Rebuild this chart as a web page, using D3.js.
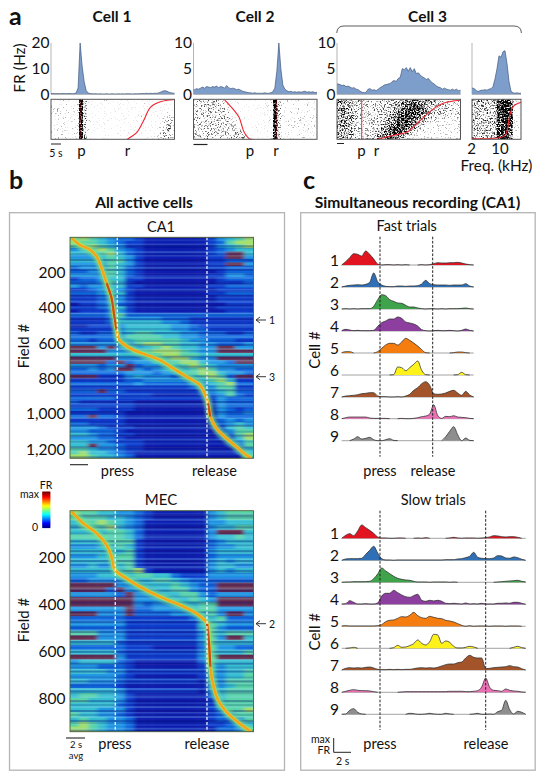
<!DOCTYPE html>
<html><head><meta charset="utf-8">
<script src="https://cdnjs.cloudflare.com/ajax/libs/d3/7.8.5/d3.min.js"></script>
<style>html,body{margin:0;padding:0;background:#fff}svg{display:block}text{font-family:Lato,"Open Sans",sans-serif;fill:#111}</style>
</head><body><div id="chart"></div>
<script>
// ---------- panel a: histograms (Hz per ~1 s bin)
const histCell1 = [.3,.3,.2,.3,.2,.3,.3,.2,.3,.3,.2,.3,.5,2.5,20,11,5,1.5,.5,.3,.2,.2,.2,.1,.2,.1,.1,.2,.1,.1,.2,.1,.1,.2,.1,.2,.1,.2,.2,.2,.1,.2,.2,.2,.3,.3,.3,.4,.3,.4,.3,.4,.4,.5,.8,1.2,1.4,1.3,.9,.6,.5,.4];
const histCell2 = [.9,1.1,1,1.2,1.4,1.2,1.5,1.4,1.3,1.5,1.4,1.6,1.3,1.5,1.4,1.2,1.7,1.3,1.1,1.2,1.1,.9,1,.8,.6,.5,.4,.3,.3,.2,.3,.2,.2,.2,.2,.3,.2,.2,.3,.5,1.2,4.5,10,5,1.8,1,.7,.5,.6,.4,.5,.4,.5,.4,.5,.6,.4,.5,.4,.5,.3,.4];
const histCell3 = [2,1.9,1.7,1.8,1.5,1.6,1.4,1.2,1.3,1,.9,.6,.4,.3,.4,1,1.1,.8,.9,.7,1,1.3,1.5,1.8,1.9,2,2.1,2.5,2.7,2.5,3.1,3.3,5,4.8,5.2,4.5,5.2,4.4,5,4,4.2,3.7,3.4,3.2,2.9,3.1,2.6,2.2,2,1.6,1.4,1.3,1,1.2,1,.9,.8,1,.8,1,.7,.8];
const histCell3Freq = [1.2,1,.6,.6,.8,.8,.9,.8,1,1.1,1.5,3,5,7.5,7.2,8.3,8.5,6,2.5,.6,.3,.2,.3,.2,.2];
const histTicks20 = [0,10,20];
const histTicks10 = [0,5,10];

// ---------- panel a: raster density, one string per trial block (top to bottom)
const rasterCell1 = ["0101010931000100000000000000001","1011001930000000000000010000000","1201011941000000000000000000000","1110101930000000000000000000011","0111011940000000000000100000121","0101011931000000000000000000232","1011001930000000000000000001141","0101011931000000000000000001251","1010011930000000000000000002321","0101001940000000000000000011332"];
const rasterCell2 = ["2323332200010000000193010010100","3233333210000000001093100100101","2323323310000001000193010010011","3232433321000000000093001010110","2323322332000010001093100111011","3232323232100000000193010111010","2323323233310000000093011111001","2232332323320001000093001100100","3223232232332000000193010010010","2323223223323100000193001001001"];
const rasterCell3 = ["5554332322333344566765544332222","4545322323233345677876544333222","5654332223333345678886544333322","4544322232333456788876543332222","5555432322334567888765433222112","4544322233334568887654322211111","5654322233345678776543211111111","4544332223356788765432111111111","5455322323456787653211111111111","4544322333567765421111111111111"];
const rasterFreq = ["344434789630","434344899710","343433899810","443434899710","343343789920","434434899810","343344789921","443433899711","344434889600","434343899500"];

// red curves: [time s, trial]
const curveCell1 = [[38,0],[40.3,3],[43,7.5],[46.2,19],[49.5,32],[54.5,37.5],[61,39.5]];
const curveCell2 = [[15.5,39.5],[20.2,29],[22.7,22],[25.2,7.3],[27.7,.7],[29.3,0]];
const curveCell3 = [[20,0],[28.2,4],[34.9,7.3],[41.5,19],[48.2,30.7],[53.2,36.3],[61.5,39]];
const curveFreq = [[0,.7],[10.7,1],[16.5,4],[19,25],[20.7,33],[24.5,37]];
const pressCell1 = 14.5, pressCell2 = 41.5, pressCell3 = 12.3;

// ---------- panel b: heat maps, value digits 0-9 per field block and 1 s column
const heatCA1 = ["56543221000000013456","65543211000000012566","55654311000000013456","34565321000000012344","44456421000000012994","33345431000000011993","44445531000000011222","33335431000000011993","23335421000000011222","22335421000000001222","33335421000000011332","12234411000000001222","22235410000000001112","32334411000000011222","11234310000000001111","22234410000000011222","11123310000000001111","11123310000000001111","01123210000000000111","11123410000000001111","01112310000000000111","22223522222222222222","11112433332221111111","11112444443321111111","00111344444332111111","11111344444332211111","21122345544433222112","22222355554433222222","22122345555543322211","33333335665544332223","99939333456544339933","99993334566654339999","44444444456655444444","99999333445664339999","99992923344566433299","33323392334456543333","22323993234445653322","22222233323345664332","99911134333234565299","11111122333333456411","22222223222223345622","11111111111112335511","22292211111111234522","11111111100000123521","22222111111111113222","21111110000000013222","11111110000000003222","22211110000000003212","11111100000000003223","22922100000000003222","11111100000000002323","22111100000000002343","33321110000000001454","33222100000000001355","44322110000000001256","33322100000000001146","44332111000000000135","44933211000000000125","55433211000000000014","56443210000000000014","66544320000000000005"];
const heatMEC = ["65544332100000034555","55554432100000034555","45565432000000033444","45556432000000034455","44445542000000039994","55555542000000034454","44445551000000023444","33344541000000023344","44444451000000034444","33344551000000023333","44444551000000034344","33433451000000034433","44444456100000034344","33344445544211133333","22333344455432222222","99999333444543229999","99992933344553229999","33333293334455323333","99999993333445439999","99999993233344559999","33333392233334553333","99933392222333453993","22222211111112345222","33333311111111454333","22222211111111453222","55533311111111354555","99933311111111353994","44444211111111354444","22222211100000253322","44444211111111354445","99999311111111359999","34444210000000254444","33322210000000143444","44443311111111143445","33333210000000133445","44333211111111043555","22222100000000033455","44444311111111034555","45544310000000024555","55444310000000014555","44444210000000014555","44433310000000013556","54433210000000012355","45443320000000012235","56543320000000011234","66543320000000002235"];
// fine row-to-row striping: 0 dark ... 2 none ... 4 light
const stripesCA1 = "1323012413202314021342103241203142031241302143120342130241320143201342031241302413204312013421304213024132014320";
const stripesMEC = "2301423104213420314203124031420132403124023142013420312403214031240132403124302140321403124013420314203142013240";
const stripeOpacity = [.34,.16,0,.12,.24];
const stripeFill = ["#06106e","#06106e","#ffffff","#9fe0ff","#9fe0ff"];
// ridge of peak firing: [time s, field #]
const ridgeCA1 = [[.18,5],[1.09,43],[2.17,71],[2.9,109],[3.44,175],[3.99,260],[4.53,345],[4.78,430],[5.07,525],[5.36,581],[5.98,610],[6.88,638],[8.33,666],[9.78,695],[11.23,742],[12.68,789],[14.13,836],[14.67,884],[15.04,940],[15.3,1016],[15.94,1082],[17.03,1138],[18.12,1186],[19.2,1233],[19.75,1252]];
const ridgeMEC = [[.18,4],[1.45,54],[2.9,96],[3.99,146],[4.53,196],[4.9,252],[6.16,288],[7.6,323],[9.78,366],[11.96,401],[13.77,437],[14.93,479],[15.15,564],[15.3,664],[15.58,735],[16.13,805],[17.03,855],[18.48,905],[19.75,940]];
const hotCA1 = [[3.99,260],[4.53,345],[4.78,430],[5.07,525]];
const hotCA1b = [[15.04,940],[15.3,1016]];
const hotMEC = [[14.93,479],[15.15,564],[15.3,664]];
const heatDigits = [0,1,2,3,4,5,6,7,8,9];
const heatColours = ["#0a1cb0","#0c3bcc","#1166dc","#1f94e2","#35bed0","#58d4a6","#a4e068","#ecd828","#ef8a14","#6a3050"];
const ticksCA1 = [200,400,600,800,1000,1200];
const ticksMEC = [200,400,600,800];

// ---------- panel c: normalised rate traces (one array per cell, fast and slow trials)
const fast1 = [0,10,22,34,32,27,42,32,18,3,0,1,1,0,1,0,1,0,0,0,1,0,1,4,7,6,6,7,7,8,6,3,1,0];
const fast2 = [0,3,5,6,7,6,8,14,42,16,6,2,1,1,3,3,2,3,3,4,9,20,10,7,6,6,6,5,6,6,6,10,3,0];
const fast3 = [0,1,0,1,0,1,1,1,8,28,43,40,28,23,18,17,11,6,6,3,1,0,1,1,0,1,0,1,1,1,2,3,1,0];
const fast4 = [1,5,3,1,2,1,1,1,2,14,25,30,36,36,42,38,27,24,21,15,4,1,0,1,2,1,1,2,1,0,2,6,2,0];
const fast5 = [1,4,4,0,0,0,0,0,0,4,14,24,29,29,24,33,44,38,30,21,10,1,0,0,0,0,0,0,1,3,3,1,0,0];
const fast6 = [0,0,0,0,0,0,0,0,0,0,0,0,0,1,24,22,13,22,32,42,14,1,0,0,0,0,0,0,0,1,8,1,0,0];
const fast7 = [0,3,4,5,7,10,11,13,13,3,1,1,0,0,1,0,3,8,20,28,40,46,35,10,8,9,12,17,20,12,5,17,6,0];
const fast8 = [0,3,5,5,5,5,5,2,1,1,1,1,0,0,0,1,0,0,1,3,6,8,14,42,10,1,7,6,9,5,4,3,1,0];
const fast9 = [0,0,0,5,12,5,7,10,3,0,0,3,6,1,0,0,0,0,0,0,0,0,0,0,0,0,12,28,42,18,0,8,1,0];
const slow1 = [0,9,14,8,22,40,32,24,15,4,1,1,0,0,1,1,0,0,0,1,0,2,0,0,0,0,0,1,3,1,0,1,1,1,0,1,2,4,8,7,5,4,5,5,3,0,0];
const slow2 = [0,4,5,5,5,6,18,30,42,22,5,1,1,0,1,1,1,1,1,1,1,1,1,1,1,1,2,2,2,4,5,8,12,24,9,6,5,5,7,14,13,7,6,10,8,3,0];
const slow3 = [0,1,1,2,2,2,2,3,11,25,43,34,26,18,12,9,7,6,3,1,1,1,0,1,1,1,1,0,1,0,0,0,0,0,0,0,0,0,0,1,2,3,4,5,6,3,1];
const slow4 = [1,2,11,6,1,1,2,1,1,4,25,33,33,42,35,28,23,21,26,30,12,9,12,10,12,9,3,2,3,2,1,4,1,2,1,3,1,1,1,3,3,4,3,6,6,3,0];
const slow5 = [1,2,1,1,1,1,1,1,1,2,5,14,18,19,24,29,28,33,42,32,26,24,30,27,24,23,18,16,13,8,3,0,2,0,1,1,1,0,1,1,1,0,1,1,1,0,0];
const slow6 = [0,0,1,3,0,0,0,0,0,0,0,0,0,2,9,3,4,8,14,25,15,10,20,42,40,15,22,18,6,1,1,3,6,4,0,0,0,0,0,0,0,0,0,3,6,2,0];
const slow7 = [0,5,7,6,7,6,8,9,6,2,1,1,2,1,2,1,2,2,4,6,7,6,7,6,8,12,16,18,18,22,24,36,44,38,36,36,4,5,7,8,9,10,13,10,9,4,0];
const slow8 = [0,3,6,8,6,5,5,4,2,0,0,0,0,0,0,1,2,2,2,2,2,2,2,2,2,2,2,3,3,3,3,2,2,3,5,16,43,15,6,5,3,10,6,4,3,1,0];
const slow9 = [0,1,12,17,6,1,0,0,0,0,0,0,0,0,0,0,0,3,2,0,0,1,3,1,0,0,3,1,0,0,0,0,0,1,3,0,0,1,0,8,12,42,14,1,9,6,0];
const cellColours = ["#e2141f","#2f6fb5","#3ea34a","#8d3f9f","#f57d0f","#fff21a","#a4542a","#ea70b4","#8e8e8e"];
const cellLabels = ["1","2","3","4","5","6","7","8","9"];

// ---------------------------------------------------------------------------
const W=545,H=780;
const svg=d3.select("#chart").append("svg").attr("width",W).attr("height",H);
const defs=svg.append("defs");
const spk=defs.append("filter").attr("id","speckle").attr("x",0).attr("y",0).attr("width",1).attr("height",1).attr("color-interpolation-filters","sRGB");
spk.append("feTurbulence").attr("type","fractalNoise").attr("baseFrequency",.7).attr("numOctaves",2).attr("seed",7).attr("result","n");
spk.append("feColorMatrix").attr("in","n").attr("type","matrix").attr("values","0 0 0 0 0 0 0 0 0 0 0 0 0 0 0 2.6 0 0 0 -.8").attr("result","na");
spk.append("feComposite").attr("in","SourceAlpha").attr("in2","na").attr("operator","arithmetic").attr("k1",0).attr("k2",1.9).attr("k3",1.5).attr("k4",-1.5).attr("result","s");
spk.append("feGaussianBlur").attr("in","s").attr("stdDeviation",.45);
const hb=defs.append("filter").attr("id","heatBlur").attr("filterUnits","userSpaceOnUse").attr("x",0).attr("y",200).attr("width",300).attr("height",580);
hb.append("feGaussianBlur").attr("stdDeviation","2.2 0.55");
defs.append("filter").attr("id","halo").attr("filterUnits","userSpaceOnUse").attr("x",0).attr("y",200).attr("width",300).attr("height",580).append("feGaussianBlur").attr("stdDeviation",1.8);
defs.append("filter").attr("id","soft").attr("filterUnits","userSpaceOnUse").attr("x",0).attr("y",200).attr("width",300).attr("height",580).append("feGaussianBlur").attr("stdDeviation",.7);

function label(x,y,s,size,o={}){
  const t=svg.append("text").attr("x",x).attr("y",y).attr("dy",".35em").attr("text-anchor",o.anchor||"middle").attr("font-size",size).text(s);
  if(o.bold)t.attr("font-weight",700);
  if(o.rot)t.attr("transform",`rotate(-90 ${x} ${y})`);
  return t;
}
function hline(x1,x2,y,c="#222",w=1){svg.append("line").attr("x1",x1).attr("x2",x2).attr("y1",y).attr("y2",y).attr("stroke",c).attr("stroke-width",w);}

// ---------- panel a
const baseY=94.3, topY=43;
function histPanel(values,x0,x1,max,ticks,curve,raster,press,bins,pressOpacity){
  const x=d3.scaleLinear().domain([0,bins]).range([x0,x1]);
  const y=d3.scaleLinear().domain([0,max]).range([baseY,topY]);
  const g=svg.append("g");
  g.append("line").attr("x1",x0).attr("x2",x0).attr("y1",topY).attr("y2",baseY).attr("stroke","#b5b5b5").attr("stroke-width",1);
  const pts=[values[0],...values,values[values.length-1]];
  const ar=d3.area().x((d,i)=>x(Math.min(bins,Math.max(0,i-.5)))).y0(baseY).y1(d=>y(d));
  g.append("path").datum(pts).attr("d",ar).attr("fill","#7d9ecb");
  g.append("path").datum(pts).attr("d",d3.line().x((d,i)=>x(Math.min(bins,Math.max(0,i-.5)))).y(d=>y(d))).attr("fill","none").attr("stroke","#41577c").attr("stroke-width",.7);
  g.append("line").attr("x1",x0).attr("x2",x1).attr("y1",baseY).attr("y2",baseY).attr("stroke","#9a9a9a").attr("stroke-width",.8);
  if(ticks){
    const ax=g.append("g").attr("transform",`translate(${x0-1.5},0)`).call(d3.axisLeft(y).tickValues(ticks).tickSize(0).tickPadding(0));
    ax.select(".domain").remove();
    ax.selectAll("text").attr("font-size",15.5).attr("font-family","Lato");
  }
  // raster
  const rt=99.3,rb=139.3;
  const rows=d3.range(raster.length);
  const cols=d3.range(raster[0].length);
  const bx=d3.scaleBand().domain(cols).range([x0,x1]);
  const by=d3.scaleBand().domain(rows).range([rt,rb]);
  const alpha=d3.scaleLinear().domain([0,9]).range([.05,1]);
  const rg=svg.append("g").attr("filter","url(#speckle)");
  const cells=[];
  rows.forEach(r=>cols.forEach(c=>cells.push({r,c,v:+raster[r][c]})));
  rg.selectAll("rect").data(cells).join("rect").attr("x",d=>bx(d.c)-.01).attr("y",d=>by(d.r)-.01).attr("width",bx.bandwidth()+.02).attr("height",by.bandwidth()+.02).attr("fill","#000").attr("opacity",d=>alpha(d.v));
  const yr=d3.scaleLinear().domain([0,40]).range([rb,rt]);
  if(press!=null)svg.append("line").attr("x1",x(press)).attr("x2",x(press)).attr("y1",rt).attr("y2",rb).attr("stroke","#e0202a").attr("stroke-width",1).attr("opacity",pressOpacity);
  svg.append("path").datum(curve).attr("d",d3.line().x(d=>x(d[0])).y(d=>yr(d[1])).curve(d3.curveCatmullRom)).attr("fill","none").attr("stroke","#ee2430").attr("stroke-width",1.1);
  svg.append("rect").attr("x",x0).attr("y",rt).attr("width",x1-x0).attr("height",rb-rt).attr("fill","none").attr("stroke","#555").attr("stroke-width",1);
}
histPanel(histCell1,51,174.5,20,histTicks20,curveCell1,rasterCell1,pressCell1,61.5,.4);
histPanel(histCell2,193.5,317,10,histTicks10,curveCell2,rasterCell2,pressCell2,61.5,.4);
histPanel(histCell3,337,460.5,10,histTicks10,curveCell3,rasterCell3,pressCell3,61.5,.9);
histPanel(histCell3Freq,472,521,10,null,curveFreq,rasterFreq,null,24.5,0);

label(9,16,"a",25,{anchor:"start",bold:true});
label(112,16.5,"Cell 1",15.5,{bold:true});
label(255,16.5,"Cell 2",15.5,{bold:true});
label(427.5,16.5,"Cell 3",15.5,{bold:true});
label(20,68,"FR (Hz)",15.5,{rot:true});
svg.append("path").attr("d","M336.8,33 Q337,26 344,26 L514,26 Q521.2,26 521.4,33").attr("fill","none").attr("stroke","#333").attr("stroke-width",.8);
hline(51,61,144); label(56,153,"5 s",10.5);
hline(193.5,207.5,144.5,"#222",1.2); hline(337,344,143.5);
label(81.5,150.5,"p",15); label(127.5,150.5,"r",15);
label(250,150.5,"p",15); label(276,150.5,"r",15);
label(361.5,150.5,"p",15); label(376.5,150.5,"r",15);
label(471.5,149,"2",15); label(500,149,"10",15);
label(496.5,165.5,"Freq. (kHz)",15.3);

// ---------- panel b
const heatColour=d3.scaleOrdinal().domain(heatDigits).range(heatColours);
const x0h=70,x1h=253.5;
const timeX=d3.scaleLinear().domain([0,20]).range([x0h,x1h]);
function heatPanel(id,grid,stripes,ridge,hots,maxField,top,bottom,ticks,press,release){
  const y=d3.scaleLinear().domain([0,maxField]).range([top,bottom]);
  const rowIdx=d3.range(grid.length);
  const colIdx=d3.range(grid[0].length);
  const by=d3.scaleBand().domain(rowIdx).range([top,bottom]);
  const bx=d3.scaleBand().domain(colIdx).range([x0h,x1h]);
  const sy=d3.scaleBand().domain(d3.range(stripes.length)).range([top,bottom]);
  const cp=defs.append("clipPath").attr("id",id);
  cp.append("rect").attr("x",x0h).attr("y",top).attr("width",x1h-x0h).attr("height",bottom-top);
  const outer=svg.append("g").attr("clip-path",`url(#${id})`);
  const inner=outer.append("g").attr("filter","url(#heatBlur)");
  const cells=[];
  rowIdx.forEach(r=>colIdx.forEach(c=>cells.push({r,c,v:+grid[r][c]})));
  const pad=14;
  inner.selectAll("rect.cell").data(cells).join("rect").attr("class","cell")
    .attr("x",d=>bx(d.c)-(d.c===0?pad:0)-.2)
    .attr("y",d=>by(d.r)-(d.r===0?pad:0)-.2)
    .attr("width",d=>bx.bandwidth()+.4+(d.c===0||d.c===colIdx.length-1?pad:0))
    .attr("height",d=>by.bandwidth()+.4+(d.r===0||d.r===rowIdx.length-1?pad:0))
    .attr("fill",d=>heatColour(d.v));
  inner.selectAll("rect.st").data(stripes.split("").map(Number)).join("rect").attr("class","st")
    .attr("x",x0h-pad).attr("width",x1h-x0h+2*pad)
    .attr("y",(d,i)=>sy(i)).attr("height",sy.bandwidth()+.1)
    .attr("fill",d=>stripeFill[d]).attr("opacity",d=>stripeOpacity[d]);
  const ln=d3.line().x(d=>timeX(d[0])).y(d=>y(d[1])).curve(d3.curveCatmullRom);
  outer.append("path").datum(ridge).attr("d",ln).attr("fill","none").attr("stroke","#7de08a").attr("stroke-width",8).attr("opacity",.7).attr("filter","url(#halo)");
  outer.append("path").datum(ridge).attr("d",ln).attr("fill","none").attr("stroke","#dfe03a").attr("stroke-width",3.6).attr("opacity",.75).attr("filter","url(#soft)");
  outer.append("path").datum(ridge).attr("d",ln).attr("fill","none").attr("stroke","#f4a41a").attr("stroke-width",2.4).attr("filter","url(#soft)");
  hots.forEach(h=>outer.append("path").datum(h).attr("d",ln).attr("fill","none").attr("stroke","#c4501c").attr("stroke-width",2.2).attr("filter","url(#soft)"));
  [press,release].forEach(t=>outer.append("line").attr("x1",timeX(t)).attr("x2",timeX(t)).attr("y1",top).attr("y2",bottom).attr("stroke","#fff").attr("stroke-width",1.2).attr("stroke-dasharray","3 1.8"));
  svg.append("rect").attr("x",x0h).attr("y",top).attr("width",x1h-x0h).attr("height",bottom-top).attr("fill","none").attr("stroke","#4f5f33").attr("stroke-width",.9);
  const ax=svg.append("g").attr("transform",`translate(${x0h-4.5},0)`).call(d3.axisLeft(y).tickValues(ticks).tickSize(0).tickPadding(0).tickFormat(d3.format(",")));
  ax.select(".domain").remove();
  ax.selectAll("text").attr("font-size",15.5).attr("font-family","Lato");
}
heatPanel("clipCA1",heatCA1,stripesCA1,ridgeCA1,[hotCA1,hotCA1b],1252,237.3,458.3,ticksCA1,5.15,14.93);
heatPanel("clipMEC",heatMEC,stripesMEC,ridgeMEC,[hotMEC],940,510.7,731.7,ticksMEC,4.93,14.93);

// panel frames
svg.append("rect").attr("x",9.5).attr("y",212.7).attr("width",275).attr("height",557.5).attr("fill","none").attr("stroke","#b4b4b4").attr("stroke-width",1.3);
svg.append("rect").attr("x",300.7).attr("y",212.7).attr("width",234.5).attr("height",557.5).attr("fill","none").attr("stroke","#b4b4b4").attr("stroke-width",1.3);

label(9,180,"b",25,{anchor:"start",bold:true});
label(303,180,"c",25,{anchor:"start",bold:true});
label(144,202.5,"All active cells",15.5,{bold:true});
label(417.5,202.5,"Simultaneous recording (CA1)",15.6,{bold:true});
label(161,226.5,"CA1",14.5);
label(161,500,"MEC",15);
label(24,346,"Field #",15,{rot:true});
label(24,620,"Field #",15,{rot:true});
hline(70,88,464.7,"#222",1.1);
label(117.5,470.5,"press",14.5); label(214.5,470.5,"release",14.5);
hline(66,85,738,"#222",1.1);
label(76,745,"2 s",9.5); label(76,756,"avg",9.5);
label(115,744,"press",14.5); label(207,744,"release",14.5);
// arrows
[[320,"1"],[376.7,"3"],[623.7,"2"]].forEach(([y,s])=>{
  svg.append("path").attr("d",`M266,${y} L256.5,${y} M260,${y-3} L256,${y} L260,${y+3}`).attr("fill","none").attr("stroke","#222").attr("stroke-width",.9);
  label(272,y+.5,s,10.5);
});
// colour bar
const jet=d3.scaleLinear().domain([0,.12,.37,.62,.87,1]).range(["#00008c","#0000ff","#00ffff","#ffff00","#ff0000","#800000"]);
const barSteps=d3.range(0,1.0001,1/35);
const barY=d3.scaleLinear().domain([0,1]).range([528,493]);
svg.append("g").selectAll("rect").data(barSteps).join("rect").attr("x",42.3).attr("width",8).attr("y",d=>barY(d)-1.5).attr("height",1.6).attr("fill",d=>jet(d));
label(39,494,"max",10.5,{anchor:"end"}); label(46,485.7,"FR",10.5); label(35,527,"0",10.5);

// ---------- panel c
const traceY=d3.scaleLinear().domain([0,45]).range([0,15]);
function traces(rows,x0,x1,baselines,xp,xr,top,bot){
  const n=rows[0].length;
  const x=d3.scaleLinear().domain([0,n-1]).range([x0,x1]);
  rows.forEach((vals,k)=>{
    const b=baselines[k];
    svg.append("line").attr("x1",x0).attr("x2",x1).attr("y1",b).attr("y2",b).attr("stroke","#8a8a8a").attr("stroke-width",.8);
    svg.append("path").datum(vals).attr("d",d3.area().x((d,i)=>x(i)).y0(b).y1(d=>b-traceY(d)).curve(d3.curveMonotoneX)).attr("fill",cellColours[k]);
    svg.append("path").datum(vals).attr("d",d3.line().defined((d,i)=>d>0||vals[i-1]>0||vals[i+1]>0).x((d,i)=>x(i)).y(d=>b-traceY(d)).curve(d3.curveMonotoneX)).attr("fill","none").attr("stroke","#2b2b2b").attr("stroke-width",.75);
    label(339,b-4.5,cellLabels[k],15.5,{anchor:"end"});
  });
  [xp,xr].forEach(v=>svg.append("line").attr("x1",v).attr("x2",v).attr("y1",top).attr("y2",bot).attr("stroke","#222").attr("stroke-width",1).attr("stroke-dasharray","2.6 1.6"));
}
traces([fast1,fast2,fast3,fast4,fast5,fast6,fast7,fast8,fast9],341.7,473.7,[265,287,309,331,353,375,397,418.7,440.7],380,432.7,236.7,456.7);
traces([slow1,slow2,slow3,slow4,slow5,slow6,slow7,slow8,slow9],341.7,525.7,[538.3,560.3,582.3,604.3,626.3,648.3,670,692.3,714.3],380,485.7,510.7,730);
label(406.7,226,"Fast trials",14.5);
label(433.3,500,"Slow trials",14.5);
label(315,350,"Cell #",15,{rot:true});
label(315,631.7,"Cell #",15,{rot:true});
label(380,471,"press",14.5); label(433,471,"release",14.5);
label(380,744,"press",14.5); label(486,744,"release",14.5);
label(330,739.5,"max",10.5,{anchor:"end"}); label(330,750,"FR",10.5,{anchor:"end"});
svg.append("path").attr("d","M333.7,738 L333.7,752.3 L351,752.3").attr("fill","none").attr("stroke","#222").attr("stroke-width",1);
label(342.7,761,"2 s",10.5);
</script></body></html>
